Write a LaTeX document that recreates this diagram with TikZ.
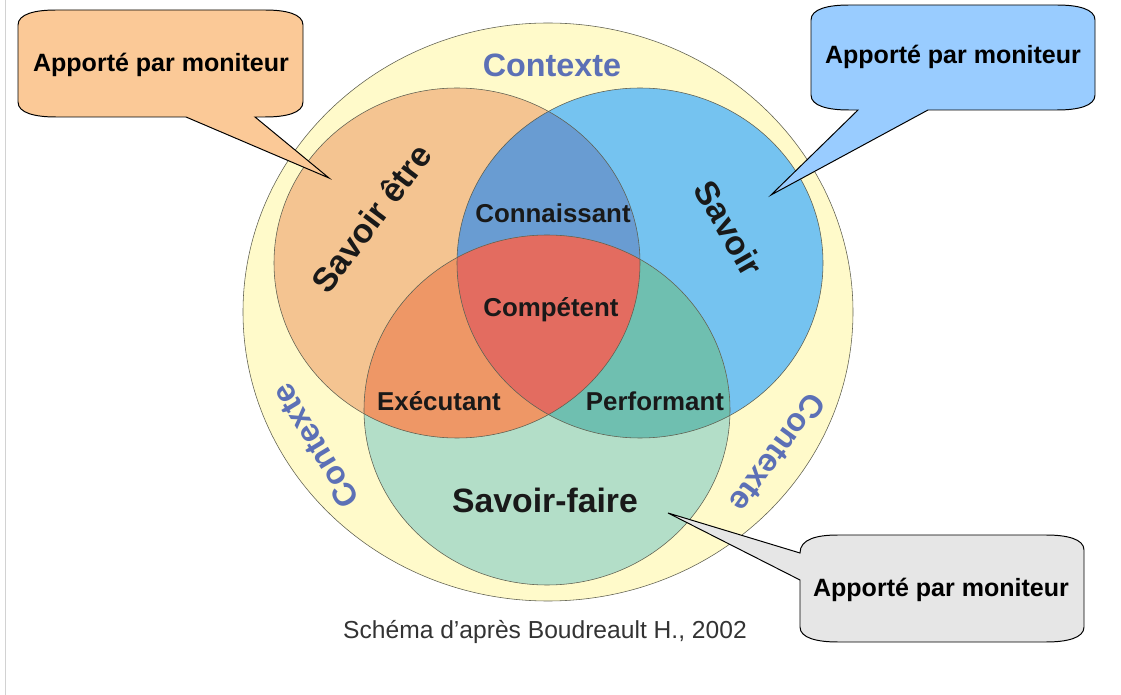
\documentclass[tikz,border=0pt]{standalone}
\usepackage{fontspec}
\setmainfont{Liberation Sans}

\definecolor{fondctx}{RGB}{255,250,202}
\definecolor{etre}{RGB}{244,196,145}
\definecolor{savoir}{RGB}{117,195,240}
\definecolor{faire}{RGB}{179,222,200}
\definecolor{connaissant}{RGB}{105,156,210}
\definecolor{competent}{RGB}{227,108,96}
\definecolor{executant}{RGB}{238,151,102}
\definecolor{performant}{RGB}{111,191,176}
\definecolor{textectx}{RGB}{92,112,182}
\definecolor{bulleorange}{RGB}{251,201,151}
\definecolor{bullebleu}{RGB}{153,204,255}
\definecolor{bullegris}{RGB}{230,230,230}
\definecolor{trait}{RGB}{95,95,80}

\begin{document}
\begin{tikzpicture}[x = 0.025cm, y = -0.025cm,
	venn/.style = {x radius = 183, y radius = 175},
	bord/.style = {draw = trait, line width = 0.4pt},
	bulle/.style = {draw = black, line width = 0.7pt},
	zone/.style = {text = black!90, font = \bfseries\fontsize{18.4}{20}\selectfont},
	grand/.style = {text = black!90, font = \bfseries\fontsize{24}{26}\selectfont},
	ctx/.style = {text = textectx, font = \bfseries\fontsize{23}{25}\selectfont},
	note/.style = {font = \bfseries\fontsize{17.8}{20}\selectfont}]

	\useasboundingbox (0, 0) rectangle (1121, 695);
	\draw [gray!35, line width = 0.6pt] (5, 0) -- (5, 695);

	\coordinate (c etre) at (457, 263);
	\coordinate (c savoir) at (640, 263);
	\coordinate (c faire) at (547, 410);

	\draw [bord, fill = fondctx] (548, 312) ellipse [x radius = 305, y radius = 289];

	\fill [etre] (c etre) ellipse [venn];
	\fill [savoir] (c savoir) ellipse [venn];
	\fill [faire] (c faire) ellipse [venn];

	\begin{scope}
		\clip (c etre) ellipse [venn];
		\fill [connaissant] (c savoir) ellipse [venn];
		\fill [executant] (c faire) ellipse [venn];
	\end{scope}

	\begin{scope}
		\clip (c savoir) ellipse [venn];
		\fill [performant] (c faire) ellipse [venn];
		\clip (c etre) ellipse [venn];
		\fill [competent] (c faire) ellipse [venn];
	\end{scope}

	\draw [bord] (c etre) ellipse [venn];
	\draw [bord] (c savoir) ellipse [venn];
	\draw [bord] (c faire) ellipse [venn];

	\node [ctx] (ctx haut) at (552, 65) {Contexte};
	\node [ctx, rotate = 121] (ctx gauche) at (315, 446) {Contexte};
	\node [ctx, rotate = 234] (ctx droite) at (778, 453) {Contexte};

	\node [grand, rotate = 53] (savoir etre) at (371, 218) {Savoir être};
	\node [grand, rotate = -60] (savoir) at (729, 228) {Savoir};
	\node [grand] (savoir faire) at (545, 500) {Savoir-faire};

	\node [zone] (connaissant) at (553, 213) {Connaissant};
	\node [zone] (competent) at (551, 310) {Compétent};
	\node [zone] (executant) at (439, 401) {Exécutant};
	\node [zone] (performant) at (655, 401) {Performant};

	\node [text = black!80, font = \fontsize{17.5}{20}\selectfont] (source) at (545, 632) {Schéma d’après Boudreault H., 2002};

	\coordinate (pointe etre) at (329, 178);
	\coordinate (pointe savoir) at (771, 195);
	\coordinate (pointe faire) at (668, 513);

	\draw [bulle, fill = bulleorange] (18, 25) .. controls (18, 14) and (35, 10) .. (56, 10) -- (265, 10)
		.. controls (286, 10) and (303, 14) .. (303, 25) -- (303, 102)
		.. controls (303, 113) and (286, 117) .. (265, 117) -- (255, 117) -- (pointe etre) -- (186, 117) -- (56, 117)
		.. controls (35, 117) and (18, 113) .. (18, 102) -- cycle;
	\node [note] (bulle etre) at (161, 65) {Apporté par moniteur};

	\draw [bulle, fill = bullebleu] (811, 20) .. controls (811, 9) and (828, 5) .. (849, 5) -- (1057, 5)
		.. controls (1078, 5) and (1095, 9) .. (1095, 20) -- (1095, 95)
		.. controls (1095, 106) and (1078, 110) .. (1057, 110) -- (928, 110) -- (pointe savoir) -- (858, 110) -- (849, 110)
		.. controls (828, 110) and (811, 106) .. (811, 95) -- cycle;
	\node [note] (bulle savoir) at (953, 57) {Apporté par moniteur};

	\draw [bulle, fill = bullegris] (800, 580) -- (800, 627) .. controls (800, 638) and (817, 642) .. (838, 642) -- (1046, 642)
		.. controls (1067, 642) and (1084, 638) .. (1084, 627) -- (1084, 550)
		.. controls (1084, 539) and (1067, 535) .. (1046, 535) -- (838, 535)
		.. controls (817, 535) and (800, 539) .. (800, 553) -- (pointe faire) -- cycle;
	\node [note] (bulle faire) at (941, 590) {Apporté par moniteur};

\end{tikzpicture}
\end{document}
